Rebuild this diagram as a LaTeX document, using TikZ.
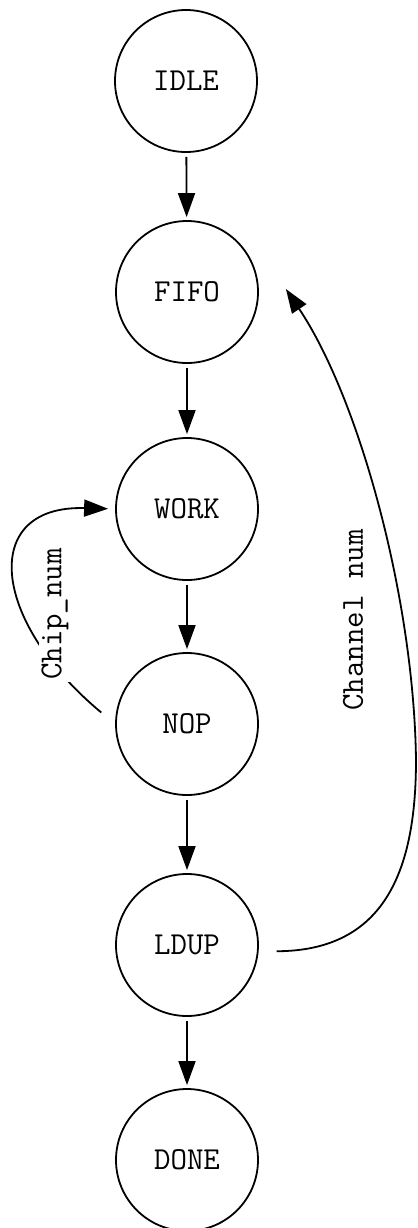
\documentclass[tikz,border=0pt]{standalone}
\usetikzlibrary{arrows.meta}
\begin{document}
\begin{tikzpicture}[x=0.5pt,y=-0.5pt,line join=bevel,
  state/.style={circle,draw,line width=0.9pt,minimum size=71pt,inner sep=0pt,font=\ttfamily\fontsize{16}{19}\selectfont},
  edge/.style={line width=0.9pt,-{Triangle[length=12pt,width=8.5pt]}},
  edgelabel/.style={font=\ttfamily\fontsize{16}{19}\selectfont,rotate=90,inner sep=1pt}]
	\useasboundingbox (0,0) rectangle (418,1228) ;
	\node[state] (idle) at (186,81) {IDLE} ;
	\node[state] (fifo) at (187,292) {FIFO} ;
	\node[state] (work) at (187,509) {WORK} ;
	\node[state] (nop)  at (187,724) {NOP} ;
	\node[state] (ldup) at (187,945) {LDUP} ;
	\node[state] (done) at (187,1160) {DONE} ;
	\foreach \a/\b in {idle/fifo,fifo/work,work/nop,nop/ldup,ldup/done}
		\draw[edge,shorten <=2pt,shorten >=1.5pt] (\a) -- (\b) ;
	% loop back to WORK
	\draw[edge,shorten <=9pt,shorten >=3.5pt] (nop.west) .. controls (-10,620) and (-20,505) .. (work.west) ;
	\node[edgelabel,fill=white] (chip) at (55,614) {Chip\_num} ;
	% back to FIFO
	\draw[edge,shorten <=9pt] (ldup.-5) .. controls (385,951) and (416,870) .. (416,760)
		.. controls (414,600) and (360,400) .. ([xshift=13.5pt,yshift=1.5pt]fifo.east) ;
	\node[edgelabel] (chan) at (353,620) {Channel num} ;
\end{tikzpicture}
\end{document}
